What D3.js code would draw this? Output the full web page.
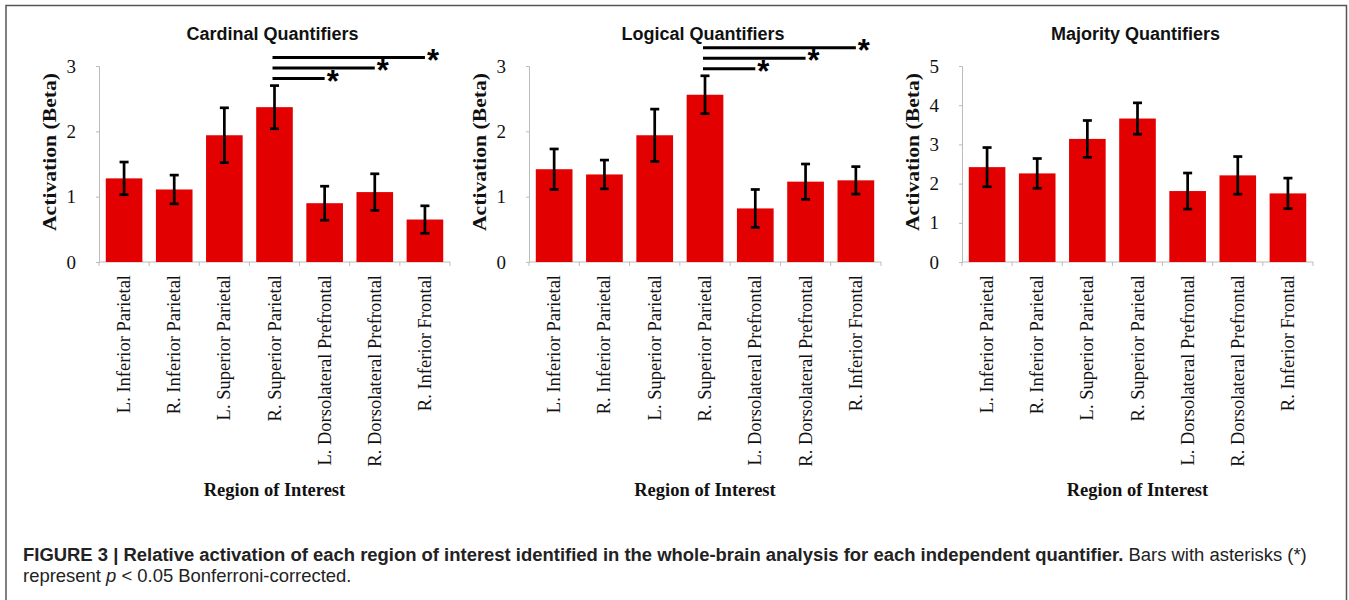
<!DOCTYPE html>
<head>
    <meta charset="utf-8">
    <script src="https://d3js.org/d3.v7.min.js"></script>
    <style>
        body { margin: 0; background: #fff; }
    </style>
</head>
<body>
    <svg id="fig" width="1349" height="600"></svg>
    <script>
        // categories shared by the three panels
        var regions = ["L. Inferior Parietal", "R. Inferior Parietal", "L. Superior Parietal",
            "R. Superior Parietal", "L. Dorsolateral Prefrontal", "R. Dorsolateral Prefrontal",
            "R. Inferior Frontal"];

        var panelTitles = ["Cardinal Quantifiers", "Logical Quantifiers", "Majority Quantifiers"];

        // bar heights and +/- error per panel
        var cardinalMeans = [1.28, 1.11, 1.94, 2.37, 0.90, 1.07, 0.65];
        var cardinalErrors = [0.25, 0.22, 0.42, 0.33, 0.26, 0.28, 0.21];
        var logicalMeans = [1.42, 1.34, 1.94, 2.56, 0.82, 1.23, 1.25];
        var logicalErrors = [0.31, 0.22, 0.40, 0.29, 0.29, 0.27, 0.21];
        var majorityMeans = [2.42, 2.26, 3.14, 3.66, 1.81, 2.21, 1.75];
        var majorityErrors = [0.50, 0.38, 0.47, 0.40, 0.46, 0.48, 0.39];

        // y axis tops and ticks
        var yMaxes = [3, 3, 5];
        var cardinalTicks = [0, 1, 2, 3];
        var logicalTicks = [0, 1, 2, 3];
        var majorityTicks = [0, 1, 2, 3, 4, 5];

        // significant comparisons (from bar index -> to bar index)
        var cardinalSig = [[3, 4], [3, 5], [3, 6]];
        var logicalSig = [[3, 4], [3, 5], [3, 6]];
        var majoritySig = [];

        var panels = [
            { title: panelTitles[0], means: cardinalMeans, errs: cardinalErrors, ymax: yMaxes[0], ticks: cardinalTicks, sig: cardinalSig, x0: 99, x1: 450 },
            { title: panelTitles[1], means: logicalMeans, errs: logicalErrors, ymax: yMaxes[1], ticks: logicalTicks, sig: logicalSig, x0: 529, x1: 881 },
            { title: panelTitles[2], means: majorityMeans, errs: majorityErrors, ymax: yMaxes[2], ticks: majorityTicks, sig: majoritySig, x0: 962, x1: 1313 }
        ];

        var svg = d3.select("#fig");
        var plotTop = 66, plotBottom = 262;
        var serif = "'Liberation Serif', 'Times New Roman', serif";
        var sans = "'Liberation Sans', Arial, Helvetica, sans-serif";

        // frame round the figure
        svg.append("path")
            .attr("d", "M6,605 V5.5 H1346.5 V605")
            .attr("fill", "none")
            .attr("stroke", "#555")
            .attr("stroke-width", 1.5);

        panels.forEach(function (p) {
            var g = svg.append("g");

            var x = d3.scaleBand()
                .domain(regions)
                .range([p.x0, p.x1])
                .paddingInner(0.27)
                .paddingOuter(0.135);

            var y = d3.scaleLinear()
                .domain([0, p.ymax])
                .range([plotBottom, plotTop]);

            // y axis
            var yAxis = g.append("g")
                .attr("transform", "translate(" + p.x0 + ",0)")
                .call(d3.axisLeft(y).tickValues(p.ticks).tickSize(3).tickPadding(20).tickFormat(d3.format("d")));
            yAxis.select(".domain").attr("stroke", "#bbb");
            yAxis.selectAll(".tick line").attr("stroke", "#bbb");
            yAxis.selectAll("text")
                .style("font-family", serif)
                .style("font-size", "19px")
                .attr("fill", "#111");

            // x axis baseline with ticks between categories
            g.append("line")
                .attr("x1", p.x0).attr("x2", p.x1)
                .attr("y1", plotBottom).attr("y2", plotBottom)
                .attr("stroke", "#bbb");
            var step = x.step();
            d3.range(regions.length + 1).forEach(function (i) {
                var tx = x(regions[0]) - x.paddingInner() * step / 2 + i * step;
                g.append("line")
                    .attr("x1", tx).attr("x2", tx)
                    .attr("y1", plotBottom).attr("y2", plotBottom + 4)
                    .attr("stroke", "#bbb");
            });

            // bars
            g.selectAll("rect.bar")
                .data(p.means)
                .enter().append("rect")
                .attr("class", "bar")
                .attr("x", function (d, i) { return x(regions[i]); })
                .attr("y", function (d) { return y(d); })
                .attr("width", x.bandwidth())
                .attr("height", function (d) { return plotBottom - y(d); })
                .attr("fill", "#e20000");

            // error bars
            var eb = g.selectAll("g.err")
                .data(p.means)
                .enter().append("g")
                .attr("class", "err")
                .attr("stroke", "#000")
                .attr("stroke-width", 2.7);
            eb.append("line")
                .attr("x1", function (d, i) { return x(regions[i]) + x.bandwidth() / 2; })
                .attr("x2", function (d, i) { return x(regions[i]) + x.bandwidth() / 2; })
                .attr("y1", function (d, i) { return y(d + p.errs[i]); })
                .attr("y2", function (d, i) { return y(d - p.errs[i]); });
            [1, -1].forEach(function (s) {
                eb.append("line")
                    .attr("x1", function (d, i) { return x(regions[i]) + x.bandwidth() / 2 - 4.5; })
                    .attr("x2", function (d, i) { return x(regions[i]) + x.bandwidth() / 2 + 4.5; })
                    .attr("y1", function (d, i) { return y(d + s * p.errs[i]); })
                    .attr("y2", function (d, i) { return y(d + s * p.errs[i]); });
            });

            // significance lines with asterisks
            p.sig.forEach(function (pair, k) {
                var a = pair[0], b = pair[1];
                var ly = y(p.means[a] + p.errs[a]) - 7 - k * 10.5;
                var xa = x(regions[a]) + x.bandwidth() / 2 - 2;
                var xb = x(regions[b]) + x.bandwidth() / 2;
                g.append("line")
                    .attr("x1", xa).attr("x2", xb)
                    .attr("y1", ly).attr("y2", ly)
                    .attr("stroke", "#000")
                    .attr("stroke-width", 3);
                g.append("text")
                    .attr("x", xb + 2)
                    .attr("y", ly + 13)
                    .style("font-family", sans)
                    .style("font-weight", "bold")
                    .style("font-size", "31px")
                    .text("*");
            });

            // category labels, rotated
            g.selectAll("text.cat")
                .data(regions)
                .enter().append("text")
                .attr("class", "cat")
                .attr("transform", function (d) {
                    return "translate(" + (x(d) + x.bandwidth() / 2 + 6) + "," + (plotBottom + 13) + ") rotate(-90)";
                })
                .attr("text-anchor", "end")
                .style("font-family", serif)
                .style("font-size", "18.5px")
                .attr("fill", "#111")
                .text(function (d) { return d; });

            // panel title
            g.append("text")
                .attr("x", (p.x0 + p.x1) / 2 - 2)
                .attr("y", 40)
                .attr("text-anchor", "middle")
                .style("font-family", sans)
                .style("font-weight", "bold")
                .style("font-size", "18px")
                .attr("fill", "#111")
                .text(p.title);

            // y axis title
            g.append("text")
                .attr("transform", "translate(" + (p.x0 - 43) + "," + ((plotTop + plotBottom) / 2 - 12) + ") rotate(-90)")
                .attr("text-anchor", "middle")
                .attr("textLength", 158)
                .attr("lengthAdjust", "spacingAndGlyphs")
                .style("font-family", serif)
                .style("font-weight", "bold")
                .style("font-size", "19px")
                .attr("fill", "#111")
                .text("Activation (Beta)");

            // x axis title
            g.append("text")
                .attr("x", (p.x0 + p.x1) / 2)
                .attr("y", 496)
                .attr("text-anchor", "middle")
                .style("font-family", serif)
                .style("font-weight", "bold")
                .style("font-size", "18.5px")
                .attr("fill", "#111")
                .text("Region of Interest");
        });

        // caption
        var cap1 = svg.append("text")
            .attr("x", 23)
            .attr("y", 561)
            .style("font-family", sans)
            .style("font-size", "15px")
            .attr("fill", "#222");
        cap1.append("tspan")
            .style("font-weight", "bold")
            .text("FIGURE 3 | Relative activation of each region of interest identified in the whole-brain analysis for each independent quantifier.");
        cap1.append("tspan")
            .text(" Bars with asterisks (*)");

        var cap2 = svg.append("text")
            .attr("x", 23)
            .attr("y", 582)
            .style("font-family", sans)
            .style("font-size", "15px")
            .attr("fill", "#222");
        cap2.append("tspan").text("represent ");
        cap2.append("tspan").style("font-style", "italic").text("p");
        cap2.append("tspan").text(" < 0.05 Bonferroni-corrected.");

        // the caption face in the figure is wider than ours: stretch the font so line 1 ends near x = 1307
        var w = cap1.node().getComputedTextLength();
        var fs = 15 * (1307 - 23) / w;
        cap1.style("font-size", fs + "px");
        cap2.style("font-size", fs + "px");
    </script>
</body>
